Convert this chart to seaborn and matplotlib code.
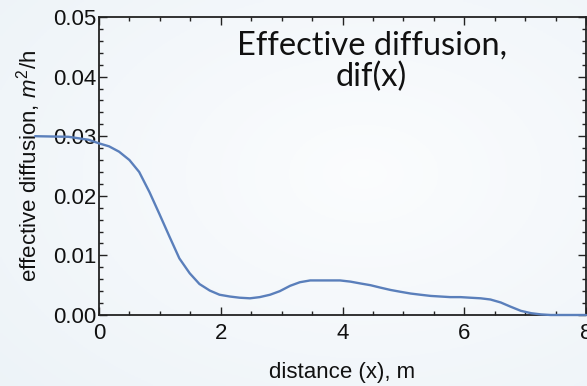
import numpy as np
import pandas as pd
import matplotlib
matplotlib.use("Agg")
import matplotlib.pyplot as plt
import seaborn as sns

# data
x_vals = [-1.05, -0.50, -0.17, 0.0, 0.165, 0.33, 0.50, 0.66, 0.83, 0.99, 1.16, 1.32,
          1.49, 1.65, 1.82, 1.98, 2.15, 2.31, 2.48, 2.64, 2.81, 2.97, 3.14, 3.30,
          3.47, 3.63, 3.80, 3.96, 4.13, 4.29, 4.46, 4.62, 4.79, 4.95, 5.12, 5.28,
          5.45, 5.61, 5.77, 5.94, 6.10, 6.27, 6.43, 6.60, 6.76, 6.93, 7.10, 7.26,
          7.42, 7.70, 8.0]
y_vals = [0.0300, 0.0299, 0.0294, 0.0288, 0.0283, 0.0274, 0.0260, 0.0240, 0.0206, 0.0170,
          0.0131, 0.0095, 0.0070, 0.0052, 0.0041, 0.0034, 0.0031, 0.0029, 0.0028, 0.0030,
          0.0034, 0.0040, 0.0049, 0.0055, 0.0058, 0.0058, 0.0058, 0.0058, 0.0056, 0.0053,
          0.0050, 0.0046, 0.0042, 0.0039, 0.0036, 0.0034, 0.0032, 0.0031, 0.0030, 0.0030,
          0.0029, 0.0028, 0.0026, 0.0021, 0.0014, 0.0007, 0.0003, 0.0001, 0.0, 0.0, 0.0]
x_ticks = [0, 2, 4, 6, 8]
y_ticks = [0.00, 0.01, 0.02, 0.03, 0.04, 0.05]
title_text = "Effective diffusion,\ndif(x)"
x_label = "distance (x), m"
y_label = "effective diffusion, $m^2$/h"

sns.set_theme(style="ticks")
plt.rcParams['font.family'] = ['Liberation Sans', 'DejaVu Sans']
plt.rcParams['mathtext.fontset'] = 'custom'
plt.rcParams['mathtext.it'] = 'Liberation Sans:italic'
plt.rcParams['mathtext.rm'] = 'Liberation Sans'

fig = plt.figure(figsize=(5.87, 3.86), dpi=100)

# soft gradient background
bg = fig.add_axes([0, 0, 1, 1], zorder=-10)
gx, gy = np.meshgrid(np.linspace(0, 1, 200), np.linspace(0, 1, 140))
r = np.sqrt(((gx - 0.62) / 0.9) ** 2 + ((gy - 0.45) / 0.9) ** 2)
r = np.clip(r, 0, 1)
c0 = np.array([0.985, 0.99, 0.995])
c1 = np.array([0.925, 0.95, 0.97])
img = c0[None, None, :] * (1 - r[..., None]) + c1[None, None, :] * r[..., None]
bg.imshow(img, aspect='auto', extent=[0, 1, 0, 1], origin='upper')
bg.axis('off')

ax = fig.add_axes([99 / 587, 71 / 386, 487 / 587, 298 / 386])
ax.set_facecolor('none')

df = pd.DataFrame({"x": x_vals, "y": y_vals})
sns.lineplot(data=df, x="x", y="y", ax=ax, color="#5a7fbb", linewidth=1.7,
             clip_on=False, zorder=5, solid_joinstyle='round', solid_capstyle='round')

ax.set_xlim(0, 8)
ax.set_ylim(0, 0.05)
ax.set_xticks(x_ticks)
ax.set_xticklabels([str(t) for t in x_ticks])
ax.set_yticks(y_ticks)
ax.set_yticklabels([f"{t:.2f}" for t in y_ticks])
ax.xaxis.set_minor_locator(matplotlib.ticker.MultipleLocator(0.5))
ax.yaxis.set_minor_locator(matplotlib.ticker.MultipleLocator(0.002))

ax.tick_params(which='both', direction='in', top=True, right=True,
               color='#222222', width=1.0)
ax.tick_params(which='major', length=6, labelsize=16, labelcolor='#111111')
ax.tick_params(axis='y', which='major', pad=2)
ax.tick_params(axis='x', which='major', pad=6)
ax.tick_params(which='minor', length=3)
for s in ax.spines.values():
    s.set_color('#222222')
    s.set_linewidth(1.3)

ax.set_xlabel(x_label, fontsize=16, color='#111111', labelpad=13)
ax.set_ylabel(y_label, fontsize=16, color='#111111', labelpad=7)

ax.text(0.56, 0.85, title_text, transform=ax.transAxes, ha='center', va='center',
        multialignment='center', fontsize=23.5, color='#111111',
        family=['Lato', 'DejaVu Sans'], fontweight='normal', linespacing=1.05)

fig.savefig("out.png", dpi=100)
